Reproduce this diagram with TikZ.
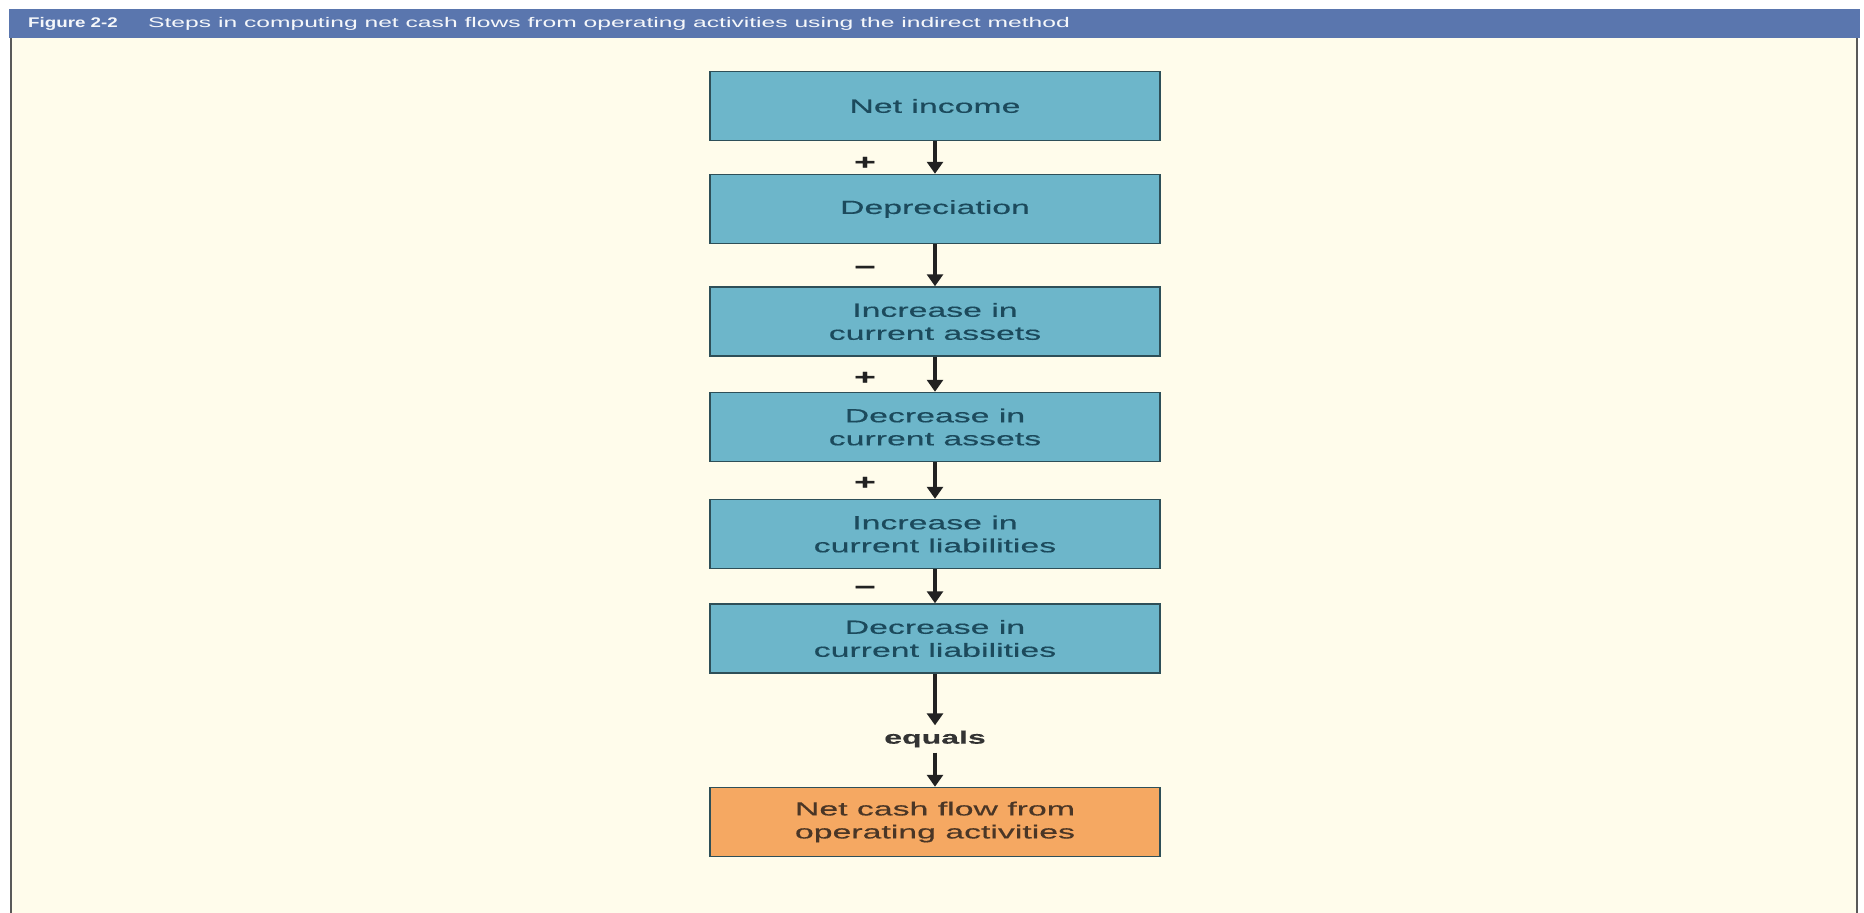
\documentclass[tikz,border=0pt]{standalone}
\usepackage{fontspec}
\setmainfont{Liberation Sans}
\newfontfamily\boxfont[FakeStretch=1.78,FakeBold=0.4]{Liberation Sans}
\newfontfamily\headfont[FakeStretch=1.76]{Liberation Sans}
\newfontfamily\headboldfont[FakeStretch=1.34]{Liberation Sans}
\usetikzlibrary{arrows.meta}
\definecolor{headblue}{HTML}{5A76AE}
\definecolor{cream}{HTML}{FFFCEB}
\definecolor{boxteal}{HTML}{6DB6CA}
\definecolor{boxedge}{HTML}{2E4F58}
\definecolor{boxtext}{HTML}{1C4A5C}
\definecolor{boxorange}{HTML}{F5A862}
\definecolor{orangetext}{HTML}{4A3626}
\definecolor{arrowdark}{HTML}{222222}
\tikzset{
  stepbox/.style={draw=boxedge, line width=1.5pt, fill=boxteal, minimum width=450pt,
    minimum height=69pt, align=center, text=boxtext, inner sep=0pt,
    font=\boxfont\fontsize{19pt}{23pt}\selectfont},
  resultbox/.style={stepbox, fill=boxorange, text=orangetext},
  flow/.style={draw=arrowdark, line width=4pt, -{Triangle[length=12pt,width=16pt]}},
  sign/.style={text=arrowdark, font=\boxfont\fontsize{21pt}{21pt}\selectfont\bfseries, inner sep=0pt},
  headtext/.style={text=white!94!headblue, anchor=west, inner sep=0pt,
    font=\headfont\fontsize{14pt}{14pt}\selectfont},
  headlabel/.style={headtext, font=\headboldfont\fontsize{14pt}{14pt}\selectfont\bfseries}
}
\begin{document}
\begin{tikzpicture}[x=1pt,y=-1pt]
  \useasboundingbox (0,0) rectangle (1864,913);
  \fill[white] (0,0) rectangle (1864,913);
  % frame
  \fill[cream] (10,9) rectangle (1858,913);
  \draw[gray!70!black, line width=2pt] (11,38) -- (11,913);
  \draw[gray!70!black, line width=2pt] (1857,38) -- (1857,913);
  \fill[headblue] (9,9) rectangle (1860,38);
  \node[headlabel] (figno) at (28,23.5) {Figure 2-2};
  \node[headtext] (title) at (148,23.5) {Steps in computing net cash flows from operating activities using the indirect method};
  % boxes
  \node[stepbox] (ni)  at (935,106)   {Net income};
  \node[stepbox] (dep) at (935,209)   {Depreciation};
  \node[stepbox] (ica) at (935,321.5) {Increase in\\current assets};
  \node[stepbox] (dca) at (935,427)   {Decrease in\\current assets};
  \node[stepbox] (icl) at (935,534)   {Increase in\\current liabilities};
  \node[stepbox] (dcl) at (935,638.5) {Decrease in\\current liabilities};
  \node[font=\boxfont\fontsize{18pt}{22pt}\selectfont\bfseries, text=black!80, inner sep=0pt,
        minimum height=27pt] (eq) at (935,739) {equals};
  \node[resultbox] (ncf) at (935,822) {Net cash flow from\\operating activities};
  % connectors
  \draw[flow] (ni.south) -- (dep.north);
  \draw[flow] (dep.south) -- (ica.north);
  \draw[flow] (ica.south) -- (dca.north);
  \draw[flow] (dca.south) -- (icl.north);
  \draw[flow] (icl.south) -- (dcl.north);
  \draw[flow] (dcl.south) -- (eq.north);
  \draw[flow] (eq.south) -- (ncf.north);
  % signs
  \node[sign] (s1) at (865,163) {+};
  \node[sign] (s2) at (865,270) {−};
  \node[sign] (s3) at (865,378) {+};
  \node[sign] (s4) at (865,483) {+};
  \node[sign] (s5) at (865,590) {−};
\end{tikzpicture}
\end{document}
